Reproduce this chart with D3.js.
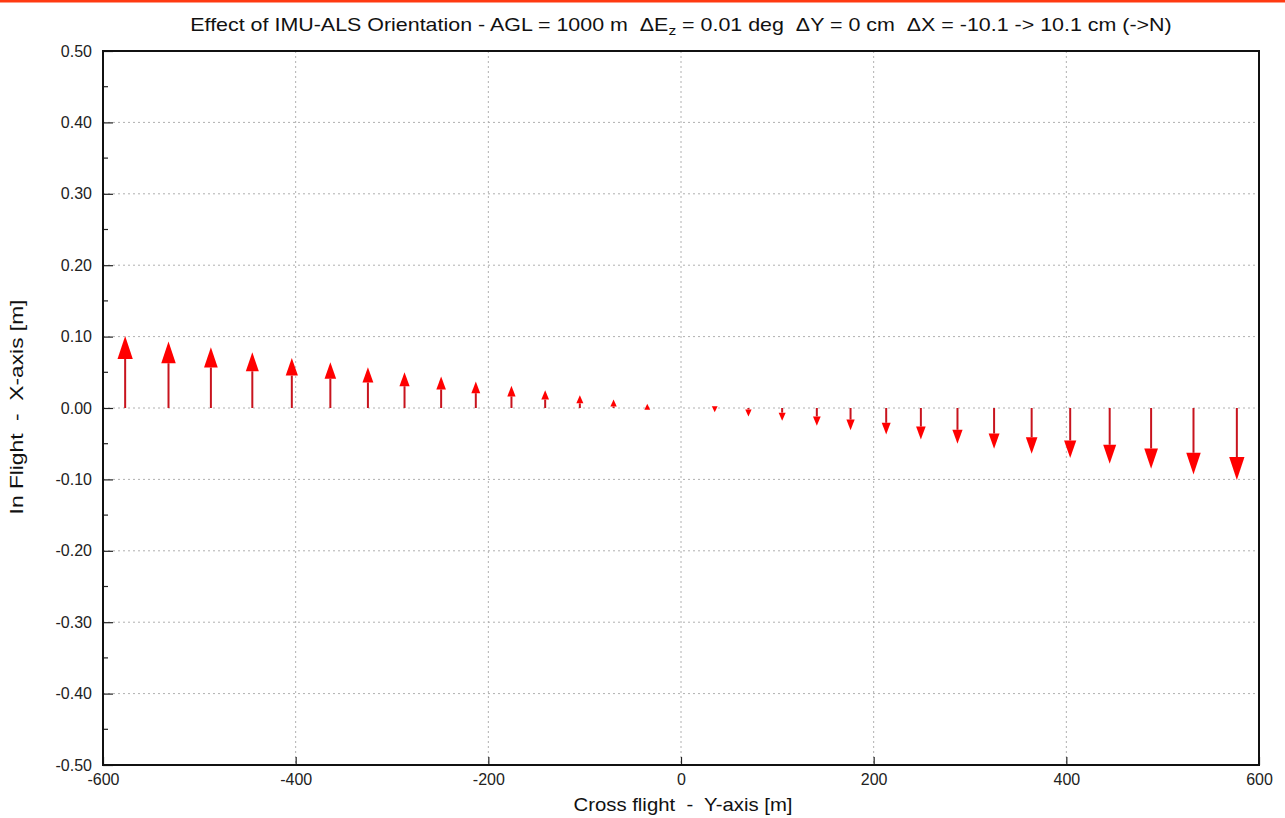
<!DOCTYPE html>
<html>
<head>
<meta charset="utf-8">
<title>IMU-ALS Orientation</title>
<script src="https://cdn.jsdelivr.net/npm/d3@7"></script>
<style>
  body { margin: 0; background: #fff; }
  svg { display: block; }
  text { white-space: pre; }
  .narrow { font-family: "Liberation Sans", Arial, sans-serif; fill: #111; }
</style>
</head>
<body>
<div id="chart"></div>
<script>
// cross-flight position of each point [m]
var posY = [-577, -532, -488, -445, -404, -364, -325, -287, -249, -213, -176, -141, -105, -70, -35,
              35,   70,  105,  141,  176,  213,  249,  287,  325,  364,  404,  445,  488,  532,  577];
// in-flight displacement [m]
var dX = [0.101, 0.093, 0.085, 0.078, 0.070, 0.064, 0.057, 0.050, 0.044, 0.037, 0.031, 0.025, 0.018, 0.012, 0.006,
          -0.006, -0.012, -0.018, -0.025, -0.031, -0.037, -0.044, -0.050, -0.057, -0.064, -0.070, -0.078, -0.085, -0.093, -0.101];
var xTicks = [-600, -400, -200, 0, 200, 400, 600];
var yTicks = [-0.5, -0.4, -0.3, -0.2, -0.1, 0, 0.1, 0.2, 0.3, 0.4, 0.5];
var yMinor = [-0.45, -0.35, -0.25, -0.15, -0.05, 0.05, 0.15, 0.25, 0.35, 0.45];

(function() {
  var W = 1285, H = 818;
  var mLeft = 103, mRight = 1259, mTop = 51, mBottom = 765;

  var svg = d3.select('#chart').append('svg')
    .attr('width', W)
    .attr('height', H);

  // red strip at the top of the slide
  svg.append('rect')
    .attr('x', 0).attr('y', 0)
    .attr('width', W).attr('height', 2.5)
    .attr('fill', '#ff3a12');

  var x = d3.scaleLinear().domain([-600, 600]).range([mLeft, mRight]);
  var y = d3.scaleLinear().domain([-0.5, 0.5]).range([mBottom, mTop]);

  // grid
  var grid = svg.append('g').attr('stroke', '#b0b0b0').attr('stroke-width', 1).attr('stroke-dasharray', '2,3');
  grid.selectAll('line.gx').data(xTicks.slice(1, -1)).enter().append('line')
    .attr('x1', function(d) { return x(d); }).attr('x2', function(d) { return x(d); })
    .attr('y1', mTop).attr('y2', mBottom);
  grid.selectAll('line.gy').data(yTicks.slice(1, -1)).enter().append('line')
    .attr('y1', function(d) { return y(d); }).attr('y2', function(d) { return y(d); })
    .attr('x1', mLeft).attr('x2', mRight);

  // axes
  var xAxis = d3.axisBottom(x).tickValues(xTicks).tickSizeInner(-8).tickSizeOuter(0).tickPadding(9);
  var yAxis = d3.axisLeft(y).tickValues(yTicks).tickSizeInner(-10).tickSizeOuter(0).tickPadding(11);

  var gx = svg.append('g').attr('transform', 'translate(0,' + mBottom + ')').call(xAxis);
  var gy = svg.append('g').attr('transform', 'translate(' + mLeft + ',0)').call(yAxis);
  gx.select('.domain').remove();
  gy.select('.domain').remove();
  gx.selectAll('.tick line').attr('stroke', '#222').attr('stroke-width', 1.2);
  gy.selectAll('.tick line').attr('stroke', '#222').attr('stroke-width', 1.2);
  gy.selectAll('.tick text').text(function(d) { return d.toFixed(2); });
  gx.selectAll('.tick text').text(function(d) { return String(d); });
  svg.selectAll('.tick text')
    .style('font-family', '"Liberation Sans", Arial, sans-serif')
    .style('font-size', '16px')
    .attr('fill', '#222');

  // minor ticks on y axis
  svg.append('g').selectAll('line').data(yMinor).enter().append('line')
    .attr('x1', mLeft).attr('x2', mLeft + 5)
    .attr('y1', function(d) { return y(d); }).attr('y2', function(d) { return y(d); })
    .attr('stroke', '#222').attr('stroke-width', 1.2);

  // arrows
  var arrows = svg.append('g');
  posY.forEach(function(p, i) {
    var x0 = x(p), y0 = y(0), y1 = y(dX[i]);
    var len = Math.abs(y1 - y0);
    var dir = y1 < y0 ? -1 : 1;
    var hl = 5 + 0.25 * len, hw = 2.6 + 0.07 * len;
    var base = y1 - dir * hl;
    if ((base - y0) * dir > 0.5) {
      arrows.append('line')
        .attr('x1', x0).attr('x2', x0)
        .attr('y1', y0).attr('y2', base)
        .attr('stroke', '#c8141e').attr('stroke-width', 2);
    }
    arrows.append('path')
      .attr('d', d3.line()([[x0 - hw, base], [x0 + hw, base], [x0, y1]]) + 'Z')
      .attr('fill', '#f00');
  });

  // frame
  svg.append('rect')
    .attr('x', mLeft).attr('y', mTop)
    .attr('width', mRight - mLeft).attr('height', mBottom - mTop)
    .attr('fill', 'none').attr('stroke', '#111').attr('stroke-width', 2);

  // squeeze a text horizontally to a given width (condensed look of the original)
  function fitWidth(sel, cx, cy, width, rotate) {
    var w = sel.node().getComputedTextLength();
    var s = width / w;
    sel.attr('x', 0).attr('y', 0)
      .attr('transform', 'translate(' + cx + ',' + cy + ')' + (rotate ? ' rotate(-90)' : '') + ' scale(' + s + ',1)');
  }

  // title and labels
  var title = svg.append('text').attr('class', 'narrow')
    .attr('text-anchor', 'middle')
    .attr('font-size', 18);
  title.append('tspan').text('Effect of IMU-ALS Orientation - AGL = 1000 m  \u0394E');
  title.append('tspan').attr('font-size', 13).attr('dy', 4).text('z');
  title.append('tspan').attr('dy', -4).text(' = 0.01 deg  \u0394Y = 0 cm  \u0394X = -10.1 -> 10.1 cm (->N)');
  fitWidth(title, 681, 31, 982, false);

  var xl = svg.append('text').attr('class', 'narrow')
    .attr('text-anchor', 'middle')
    .attr('font-size', 18)
    .text('Cross flight  -  Y-axis [m]');
  fitWidth(xl, 683, 811, 219, false);

  var yl = svg.append('text').attr('class', 'narrow')
    .attr('text-anchor', 'middle')
    .attr('font-size', 18)
    .text('In Flight  -  X-axis [m]');
  fitWidth(yl, 23, 407, 215, true);
})();
</script>
</body>
</html>
